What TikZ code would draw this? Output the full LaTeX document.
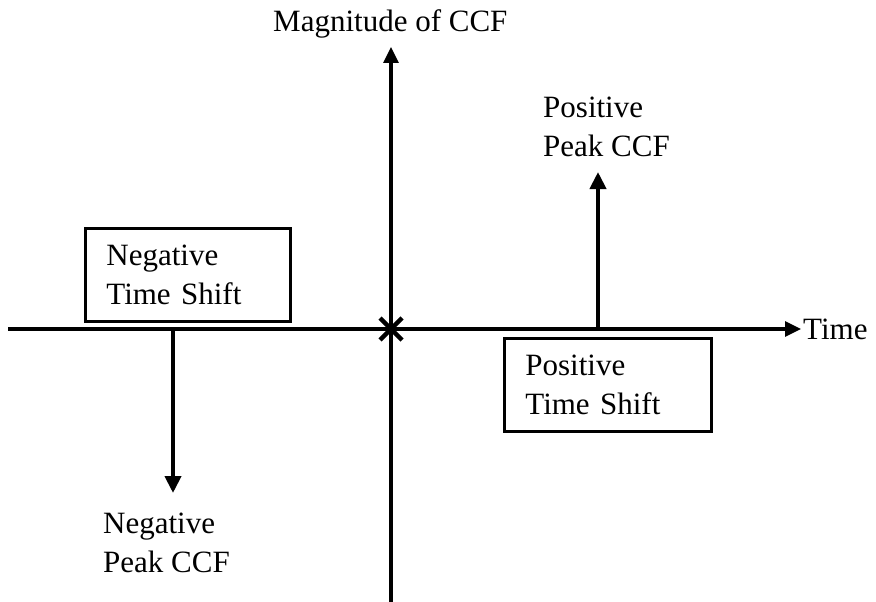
\documentclass[tikz,border=0pt]{standalone}
\usepackage{fontspec}
\setmainfont{Liberation Serif}
\usetikzlibrary{arrows.meta}

\begin{document}
\begin{tikzpicture}[x=1pt,y=-1pt,
    txt/.style={inner sep=0pt, font=\fontsize{31}{39}\selectfont},
    shiftbox/.style={draw, line width=2.8pt, anchor=north west, align=left,
      inner xsep=21pt, inner ysep=0pt, minimum height=93pt,
      font=\fontsize{31}{39}\selectfont},
    axis/.style={line width=3.2pt, -{Triangle[length=16pt,width=15pt]}},
    peak/.style={line width=4pt, -{Triangle[length=17pt,width=16pt]}}]

  \useasboundingbox (0,0) rectangle (876,602);

  % axis end points and origin
  \coordinate (o)     at (391,329);
  \coordinate (xleft) at (8,329);
  \coordinate (xtip)  at (801,329);
  \coordinate (ybot)  at (391,602);
  \coordinate (ytop)  at (391,47);

  % axis labels
  \node[txt, anchor=base west] (ylabel) at (273,32) {Magnitude of CCF};
  \node[txt, anchor=base west] (xlabel) at (803,339) {Time};

  % axes
  \draw[axis] (xleft) -- (xtip);
  \draw[axis] (ybot) -- (ytop);

  % cross at the origin
  \draw[line width=4.5pt] ([shift={(-11,-11)}]o) -- ([shift={(11,11)}]o)
                          ([shift={(-11,11)}]o) -- ([shift={(11,-11)}]o);

  % time shift boxes
  \node[shiftbox, text width=163pt] (negshift) at (84,227) {Negative\\Time Shift};
  \node[shiftbox, text width=165pt] (posshift) at (503,337) {Positive\\Time Shift};

  % peak labels
  \node[txt, anchor=south west, align=left] (pospeak) at (543,157) {Positive\\Peak CCF};
  \node[txt, anchor=south west, align=left] (negpeak) at (103,573) {Negative\\Peak CCF};

  % peak arrows
  \coordinate (negfoot) at (173,329);
  \coordinate (negtip)  at (173,493);
  \coordinate (posfoot) at (598,329);
  \coordinate (postip)  at (598,172);
  \draw[peak] (negfoot) -- (negtip);
  \draw[peak] (posfoot) -- (postip);
\end{tikzpicture}
\end{document}
